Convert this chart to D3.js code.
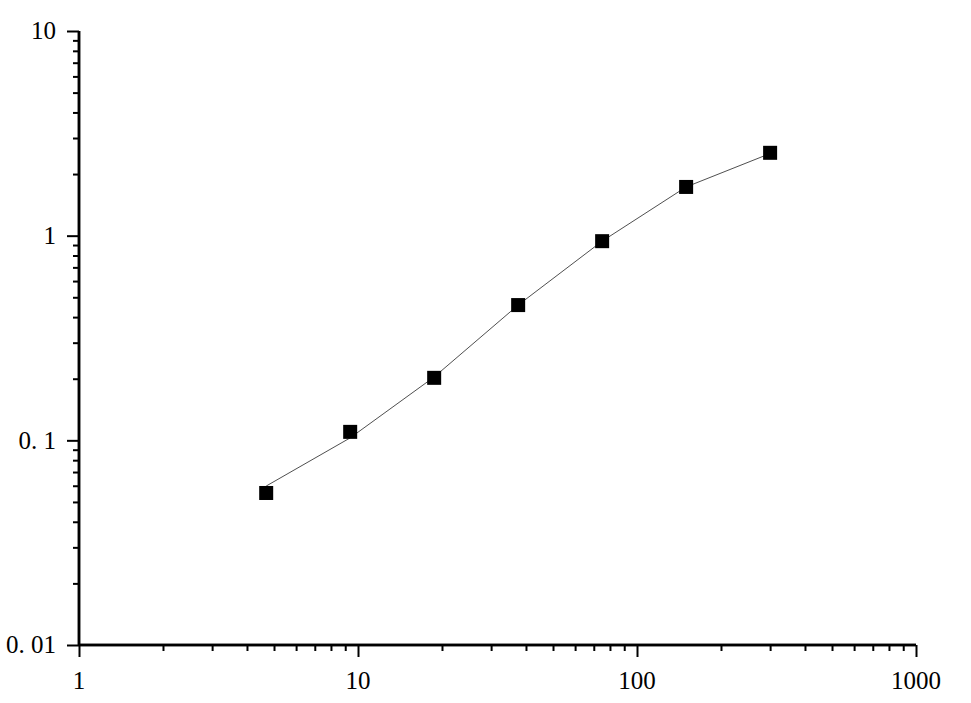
<!DOCTYPE html>
<html>
<head>
<meta charset="utf-8">
<script src="https://cdn.jsdelivr.net/npm/d3@7"></script>
<style>
  body { margin: 0; background: #fff; }
  text { font-family: "Liberation Serif", "Times New Roman", serif; font-size: 25px; fill: #000; }
</style>
</head>
<body>
<div id="chart"></div>
<script>
var width = 971,
    height = 703;

// standard concentrations and measured values
var conc = [4.6875, 9.375, 18.75, 37.5, 75, 150, 300];
var od = [0.0553, 0.110, 0.202, 0.458, 0.94, 1.73, 2.54];

// fitted curve at the same concentrations
var fitConc = [4.6875, 9.375, 18.75, 37.5, 75, 150, 300];
var fitOd = [0.0598, 0.1028, 0.204, 0.458, 0.94, 1.73, 2.52];

var xMajor = [1, 10, 100, 1000];
var xLabels = ["1", "10", "100", "1000"];
var yMajor = [0.01, 0.1, 1, 10];
var yLabels = ["0. 01", "0. 1", "1", "10"];

var x = d3.scaleLog().domain([1, 1000]).range([79, 916]);
var y = d3.scaleLog().domain([0.01, 10]).range([645, 31]);

var svg = d3.select('#chart').append('svg')
  .attr('width', width)
  .attr('height', height);

function minors(lo, hi) {
  var out = [];
  for (var d = lo; d < hi; d *= 10) {
    for (var k = 2; k <= 9; k++) out.push(d * k);
  }
  return out;
}

// x axis
var gx = svg.append('g').attr('transform', 'translate(0,645)');
gx.call(d3.axisBottom(x).tickValues(minors(1, 1000)).tickSize(6).tickFormat(''));
gx.append('g').call(d3.axisBottom(x).tickValues(xMajor).tickSize(12).tickFormat(''));
gx.selectAll('.domain').attr('stroke-width', 2.5).attr('d', 'M79,0H916');
gx.selectAll('.tick line').attr('stroke-width', 2);

svg.selectAll('.xlab').data(xMajor).enter().append('text')
  .attr('class', 'xlab')
  .attr('x', function(d) { return x(d); })
  .attr('y', 689)
  .attr('text-anchor', 'middle')
  .text(function(d, i) { return xLabels[i]; });

// y axis
var gy = svg.append('g').attr('transform', 'translate(79,0)');
gy.call(d3.axisLeft(y).tickValues(minors(0.01, 10)).tickSize(6).tickFormat(''));
gy.append('g').call(d3.axisLeft(y).tickValues(yMajor).tickSize(12).tickFormat(''));
gy.selectAll('.domain').attr('stroke-width', 2.5).attr('d', 'M0,31V645');
gy.selectAll('.tick line').attr('stroke-width', 2);

svg.selectAll('.ylab').data(yMajor).enter().append('text')
  .attr('class', 'ylab')
  .attr('x', 56)
  .attr('y', function(d) { return y(d); })
  .attr('dy', '0.33em')
  .attr('text-anchor', 'end')
  .text(function(d, i) { return yLabels[i]; });

// fitted line
var line = d3.line()
  .x(function(d) { return x(d[0]); })
  .y(function(d) { return y(d[1]); });

svg.append('path')
  .datum(fitConc.map(function(c, i) { return [c, fitOd[i]]; }))
  .attr('d', line)
  .attr('fill', 'none')
  .attr('stroke', '#222')
  .attr('stroke-width', 0.8);

// markers
var s = 14;
svg.selectAll('.pt').data(conc).enter().append('rect')
  .attr('class', 'pt')
  .attr('x', function(d) { return x(d) - s / 2; })
  .attr('y', function(d, i) { return y(od[i]) - s / 2; })
  .attr('width', s)
  .attr('height', s)
  .attr('fill', '#000');
</script>
</body>
</html>
